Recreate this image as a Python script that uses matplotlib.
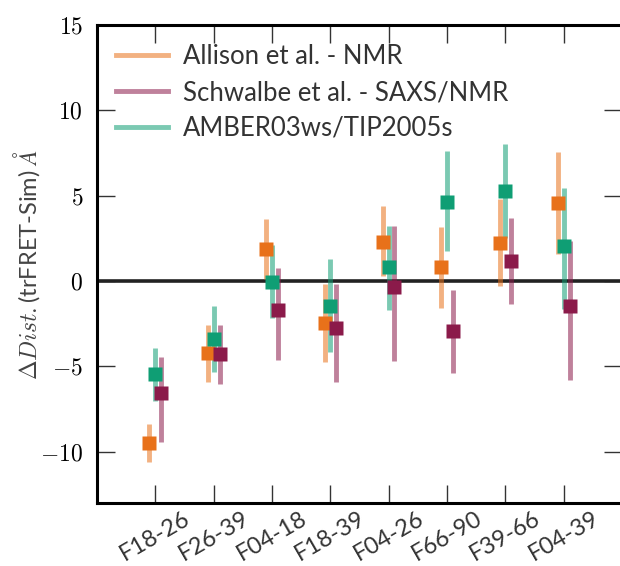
import matplotlib
matplotlib.use('Agg')
import matplotlib.pyplot as plt
from matplotlib.lines import Line2D
from matplotlib.ticker import FuncFormatter
import numpy as np

plt.rcParams['mathtext.fontset'] = 'cm'
plt.rcParams['font.family'] = ['Lato', 'DejaVu Sans']

# FRET pairs along the x axis
pairs = ['F18-26', 'F26-39', 'F04-18', 'F18-39', 'F04-26', 'F66-90', 'F39-66', 'F04-39']

# Allison et al. - NMR
allison = [-9.5, -4.2, 1.9, -2.45, 2.3, 0.8, 2.25, 4.55]
allison_lo = [1.1, 1.7, 1.8, 2.3, 2.0, 2.4, 2.55, 2.95]
allison_hi = [1.15, 1.65, 1.75, 2.3, 2.1, 2.35, 2.55, 3.0]

# Schwalbe et al. - SAXS/NMR
schwalbe = [-6.55, -4.3, -1.7, -2.75, -0.35, -2.95, 1.2, -1.45]
schwalbe_lo = [2.9, 1.75, 2.9, 3.15, 4.35, 2.45, 2.55, 4.35]
schwalbe_hi = [2.1, 1.75, 2.45, 2.6, 3.55, 2.45, 2.5, 3.8]

# AMBER03ws/TIP2005s simulation
amber = [-5.45, -3.4, -0.05, -1.45, 0.85, 4.65, 5.25, 2.05]
amber_lo = [1.6, 1.9, 2.1, 2.7, 2.55, 2.9, 2.7, 3.7]
amber_hi = [1.55, 1.95, 2.15, 2.75, 2.4, 2.95, 2.8, 3.4]

series = [
    ('Allison et al. - NMR', allison, allison_lo, allison_hi, '#e8711a', -0.1),
    ('Schwalbe et al. - SAXS/NMR', schwalbe, schwalbe_lo, schwalbe_hi, '#8b1a4a', 0.1),
    ('AMBER03ws/TIP2005s', amber, amber_lo, amber_hi, '#0f9e74', 0.0),
]

fig = plt.figure(figsize=(6.2, 5.66), dpi=100)
ax = fig.add_axes([97 / 620, 63 / 566, 525 / 620, 478 / 566])

x = np.arange(len(pairs))
handles = []
for label, vals, lo, hi, color, dx in series:
    ax.errorbar(x + dx, vals, yerr=[lo, hi], fmt='s', color=color, ms=10.5,
                mec='none', ecolor=color, elinewidth=3.5, capsize=0, zorder=3)
    # lighten the bars only
    ax.containers[-1].lines[2][0].set_alpha(0.55)
    handles.append(Line2D([], [], color=color, alpha=0.55, lw=3.5))

ax.axhline(0, color='#222222', lw=2.6, zorder=2)

ax.set_xlim(-1, 8)
ax.set_ylim(-13, 15)
ax.set_xticks(x)
ax.set_xticklabels(pairs, rotation=30, ha='center', fontsize=17, color='#333333')
ax.set_yticks([-10, -5, 0, 5, 10, 15])
ax.yaxis.set_major_formatter(FuncFormatter(lambda v, p: r'$%d$' % v))
ax.tick_params(axis='y', labelsize=17, pad=10)
ax.tick_params(direction='in', length=13, width=1.0, color='#333333',
               top=True, right=True)
for sp in ax.spines.values():
    sp.set_linewidth(2.2)
    sp.set_color('black')

ax.set_ylabel(r'$\Delta Dist.$(trFRET-Sim) $\AA$', fontsize=17, color='#444444')
ax.yaxis.set_label_coords(-0.105, 0.5)

ax.legend(handles, [s[0] for s in series], loc='upper left', frameon=False,
          fontsize=18.5, handlelength=2.0, handletextpad=0.6, labelspacing=0.42,
          borderaxespad=0.35, labelcolor='#333333')

fig.savefig('out.png', dpi=100)
